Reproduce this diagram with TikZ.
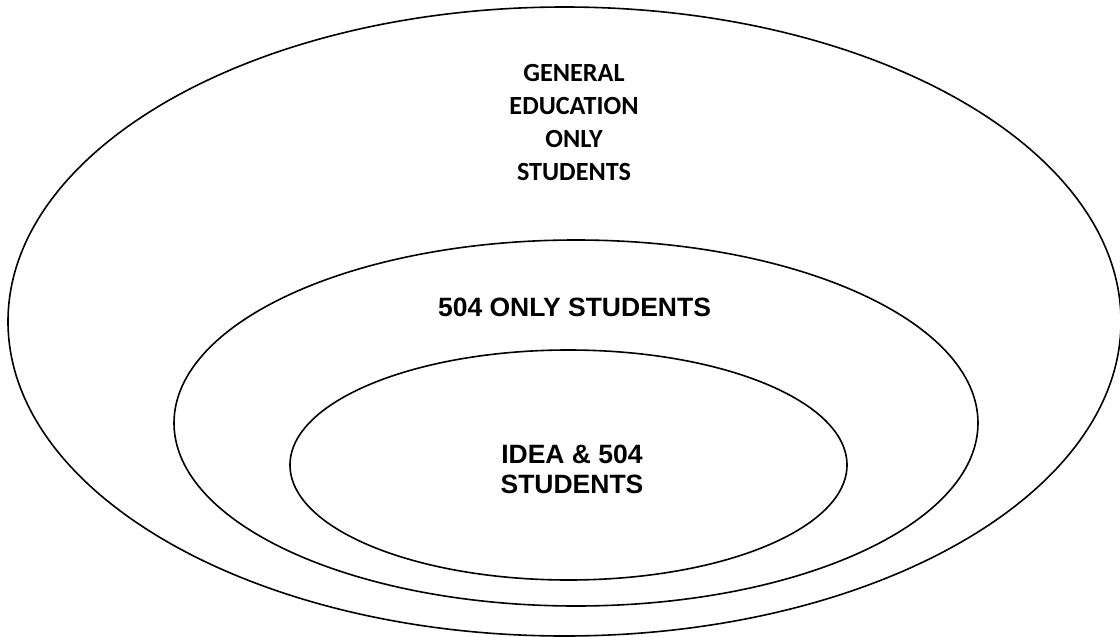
\documentclass[tikz,border=0pt]{standalone}
\usepackage{fontspec}
\setmainfont{Liberation Sans}
\newfontfamily\calibrilike{Carlito}
\begin{document}
\begin{tikzpicture}[x=1pt,y=-1pt,
  ring/.style={draw=black,line width=1.6pt},
  arialbold/.style={font=\fontsize{26.5}{30}\selectfont\bfseries,align=center,inner sep=0pt},
  calbold/.style={font=\calibrilike\fontsize{26.2}{33}\selectfont\bfseries,align=center,inner sep=0pt}]
  \useasboundingbox (0,0) rectangle (1120,637);
  % nested sets
  \draw[ring] (564.5,321.5) ellipse [x radius=556.5,y radius=314.5];
  \draw[ring] (576,423) ellipse [x radius=402,y radius=183];
  \draw[ring] (568.5,465) ellipse [x radius=278.5,y radius=115];
  % labels
  \node[calbold] (gen) at (574,123) {GENERAL\\EDUCATION\\ONLY\\STUDENTS};
  \node[arialbold] (only) at (574.5,307) {504 ONLY STUDENTS};
  \node[arialbold] (idea) at (572,469) {IDEA \& 504\\STUDENTS};
\end{tikzpicture}
\end{document}
